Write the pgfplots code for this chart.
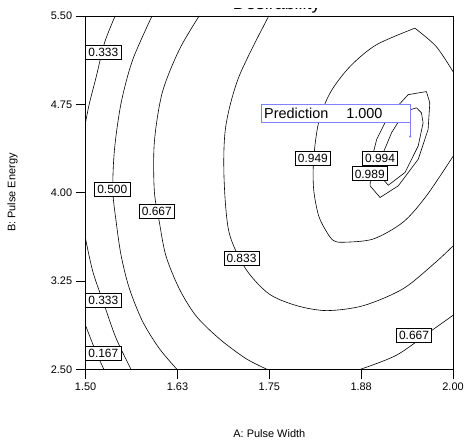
\documentclass[border=0pt]{standalone}
\usepackage{pgfplots}
\pgfplotsset{compat=1.18}
\usepackage{fontspec}
\setmainfont{Liberation Sans}
\definecolor{predblue}{RGB}{128,128,255}
\tikzset{lbl/.style={draw=black, fill=white, line width=0.6pt, font=\fontsize{12}{14}\selectfont,
     text height=8.7pt, text depth=0pt, inner xsep=2.6pt, inner ysep=2.6pt}}
\pgfplotsset{cl/.style={black, line width=0.6pt, no marks}}
\begin{document}
\begin{tikzpicture}
\path (-86pt,-72pt) rectangle (381pt,371pt);
\begin{axis}[
  at={(0pt,0pt)}, anchor=south west,
  width=369pt, height=355pt, scale only axis,
  xmin=1.5, xmax=2, ymin=2.5, ymax=5.5,
  xtick={1.5,1.625,1.75,1.875,2},
  xticklabels={1.50,1.63,1.75,1.88,2.00},
  ytick={2.5,3.25,4,4.75,5.5},
  yticklabels={2.50,3.25,4.00,4.75,5.50},
  tick pos=left, tick align=outside, major tick length=10pt,
  tick style={black, line width=0.7pt},
  tick label style={font=\fontsize{11}{13}\selectfont},
  axis line style={line width=0.8pt},
  xlabel={A: Pulse Width},
  ylabel={B: Pulse Energy},
  label style={font=\fontsize{11}{13}\selectfont},
  xlabel style={at={(axis description cs:0.5,-0.193)}, anchor=base},
  ylabel style={at={(axis description cs:-0.1987,0.5)}, anchor=center},
]
% 0.167
\addplot[cl, smooth] coordinates {(1.5,2.872) (1.5122,2.677) (1.5248,2.5)};
% 0.333 upper
\addplot[cl, smooth] coordinates {(1.5402,5.5) (1.5257,5.272) (1.5145,4.985) (1.5054,4.765) (1.5,4.6)};
% 0.333 lower
\addplot[cl, smooth] coordinates {(1.5,3.607) (1.5099,3.328) (1.5257,3.041) (1.5416,2.762) (1.5619,2.5)};
% 0.500
\addplot[cl, smooth] coordinates {(1.5904,5.5) (1.5641,5.128) (1.5484,4.765) (1.5393,4.368) (1.5370,4.021)
  (1.5416,3.751) (1.5484,3.463) (1.5596,3.185) (1.5776,2.906) (1.6003,2.677) (1.6243,2.5)};
% 0.667
\addplot[cl, smooth] coordinates {(1.6545,5.5) (1.6274,5.213) (1.6043,4.849) (1.5935,4.427) (1.5935,4.013)
  (1.6003,3.751) (1.6093,3.463) (1.6274,3.185) (1.6500,2.956) (1.6816,2.762) (1.7178,2.593) (1.7470,2.5)};
% 0.667 lower right
\addplot[cl, smooth] coordinates {(1.8736,2.5) (1.9232,2.621) (1.9684,2.819) (2.0,2.959)};
% 0.833
\addplot[cl, smooth] coordinates {(1.7493,5.5) (1.7087,4.985) (1.6907,4.562) (1.6883,4.139)
  (1.6951,3.666) (1.7178,3.354) (1.7493,3.142) (1.7873,3.041) (1.8283,2.999) (1.8780,3.041)
  (1.9322,3.185) (1.9770,3.413) (2.0,3.548)};
% 0.949
\addplot[cl, smooth, tension=0.5] coordinates {(2.0,4.308) (1.9638,3.973) (1.9323,3.751) (1.8916,3.607)
  (1.8509,3.579) (1.8374,3.593) (1.8283,3.664) (1.8171,3.804) (1.8103,4.030) (1.8103,4.283)
  (1.8171,4.596) (1.8329,4.849) (1.8600,5.072) (1.8957,5.255) (1.9481,5.396)};
\addplot[cl, smooth, tension=0.5] coordinates {(1.9481,5.396) (1.9770,5.241) (2.0,5.027)};
% 0.989
\addplot[cl, sharp plot] coordinates {(1.9638,4.858) (1.9684,4.762) (1.9661,4.537) (1.9526,4.283)
  (1.9255,4.058) (1.9007,3.959) (1.8871,4.058) (1.8893,4.283) (1.8961,4.452) (1.9119,4.649)
  (1.9390,4.832) (1.9638,4.858)};
% 0.994
\addplot[cl, sharp plot] coordinates {(1.9503,4.720) (1.9570,4.678) (1.9593,4.593) (1.9526,4.396)
  (1.9346,4.171) (1.9119,4.063) (1.9028,4.128) (1.9051,4.340) (1.9164,4.509) (1.9346,4.691)
  (1.9503,4.720)};
% prediction flag
\addplot[predblue, line width=0.6pt, no marks] coordinates {(1.9417,4.477) (1.9417,4.598)};
\addplot[predblue, mark=*, mark size=0.9pt, only marks] coordinates {(1.9417,4.477)};
\node[draw=predblue, fill=white, line width=0.6pt, anchor=south east, inner sep=0pt,
  minimum width=149.6pt, minimum height=17.7pt, font=\fontsize{14.5}{17}\selectfont]
  at (axis cs:1.9417,4.598) {\makebox[149.6pt][l]{\hspace{3.3pt}Prediction\hspace{18pt}1.000}};
% contour labels
\node[lbl] at (axis cs:1.5241,5.194) {0.333};
\node[lbl] at (axis cs:1.5363,4.030) {0.500};
\node[lbl] at (axis cs:1.5969,3.844) {0.667};
\node[lbl] at (axis cs:1.7121,3.442) {0.833};
\node[lbl] at (axis cs:1.5241,3.086) {0.333};
\node[lbl] at (axis cs:1.5241,2.635) {0.167};
\node[lbl] at (axis cs:1.9469,2.787) {0.667};
\node[lbl] at (axis cs:1.8093,4.292) {0.949};
\node[lbl] at (axis cs:1.9007,4.293) {0.994};
\node[lbl] at (axis cs:1.8866,4.161) {0.989};
\draw[line width=1.3pt] (rel axis cs:0,1) -- (rel axis cs:0,0) -- (rel axis cs:1,0);
\end{axis}
% title, of which only the bottom edge shows in the reference
\begin{scope}
\clip (0pt,340pt) rectangle (381pt,362.4pt);
\node[overlay, anchor=base, font=\fontsize{18}{21}\selectfont] at (192pt,361.2pt) {Desirability};
\end{scope}
\end{tikzpicture}
\end{document}
